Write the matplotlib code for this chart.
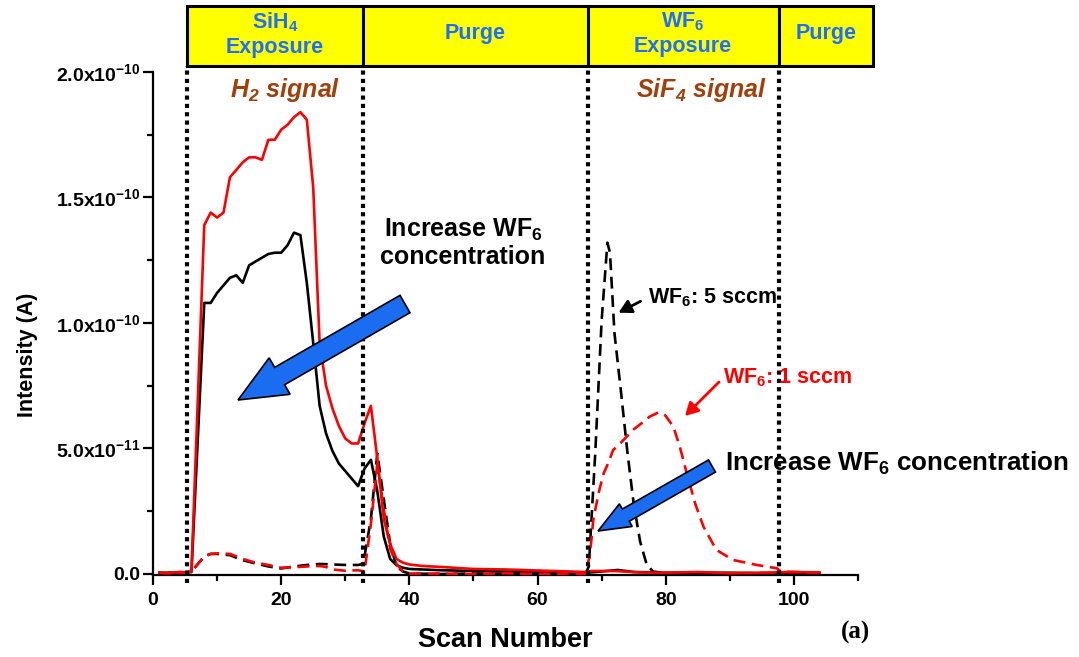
import matplotlib
matplotlib.use('Agg')
import matplotlib.pyplot as plt
import matplotlib.transforms as mtransforms
from matplotlib.patches import Rectangle, FancyArrow, FancyArrowPatch
from matplotlib.ticker import FixedLocator, MultipleLocator

# ---------------- data (intensity in units of 1e-11 A) ----------------
h2_1sccm_x = [1, 2, 3, 4, 5, 6, 8, 9, 10, 11, 12, 13, 14, 15, 16, 17, 18, 19, 20, 21, 22, 23, 24,
              25, 26, 27, 28, 29, 30, 31, 32, 33, 34, 35, 36, 37, 38, 39, 40, 42, 45, 50, 55, 60,
              65, 67.5, 68.5, 72, 76, 80, 85, 90, 95, 100, 104]
h2_1sccm_y = [0.05, 0.03, 0.05, 0.08, 0.07, 0.1, 13.9, 14.4, 14.2, 14.4, 15.8, 16.1, 16.4, 16.6,
              16.6, 16.5, 17.3, 17.3, 17.7, 17.9, 18.2, 18.4, 18.1,
              15.4, 9.2, 7.5, 6.6, 5.9, 5.4, 5.2, 5.2, 6.0, 6.7, 4.6, 2.2, 1.2, 0.6, 0.45, 0.38,
              0.32, 0.28, 0.2, 0.18, 0.14, 0.1, 0.08, 0.12, 0.12, 0.06, 0.05, 0.08, 0.03, 0.05,
              0.08, 0.06]

h2_5sccm_x = [1, 2, 3, 4, 5, 6, 8, 9, 10, 11, 12, 13, 14, 15, 16, 17, 18, 19, 20, 21, 22, 23, 24,
              25, 26, 27, 28, 29, 30, 31, 32, 33, 34, 35, 36, 37, 38, 39, 40, 42, 45, 50, 55, 60,
              65, 67.5, 70, 72.5, 75, 80, 85, 90, 95, 100, 104]
h2_5sccm_y = [0.05, 0.04, 0.05, 0.06, 0.06, 0.08, 10.8, 10.8, 11.2, 11.5, 11.8, 11.9, 11.6, 12.3,
              12.45, 12.6, 12.75, 12.8, 12.8, 13.1, 13.6, 13.5, 11.6,
              9.2, 6.7, 5.6, 4.9, 4.4, 4.1, 3.8, 3.5, 4.2, 4.55, 3.3, 1.5, 0.6, 0.35, 0.25, 0.2,
              0.18, 0.15, 0.12, 0.1, 0.08, 0.06, 0.05, 0.1, 0.16, 0.08, 0.05, 0.04, 0.05, 0.03,
              0.05, 0.04]

sif4_5sccm_x = [1, 3, 5, 6, 8, 9, 10, 12, 14, 16, 18, 20, 22, 24, 26, 28, 30, 32, 32.8, 34, 35,
                36, 37, 38, 39, 40, 45, 50, 55, 60, 65, 67.5, 68, 69, 70, 70.9, 71.3, 72, 73, 74,
                75, 76, 77, 78, 80, 85, 90, 95, 100, 104]
sif4_5sccm_y = [0.03, 0.05, 0.04, 0.1, 0.7, 0.8, 0.8, 0.75, 0.55, 0.42, 0.3, 0.22, 0.3, 0.36,
                0.4, 0.38, 0.36, 0.36, 0.4, 2.2, 4.8, 3.0, 1.2, 0.3, 0.1, 0.02, 0.0, 0.02, 0.0,
                0.02, 0.0, 0.02, 0.3, 4.8, 10.1, 13.2, 12.8, 9.6, 7.3, 4.9, 2.8, 1.3, 0.4, 0.1,
                0.03, 0.05, 0.02, 0.04, 0.02, 0.03]

sif4_1sccm_x = [1, 3, 5, 6, 8, 9, 10, 12, 14, 16, 18, 20, 22, 24, 26, 27, 28, 30, 32, 33, 34,
                35, 36, 37, 38, 39, 40, 45, 50, 55, 60, 65, 67.5, 68.2, 68.7, 69.5, 70.3, 71,
                71.8, 72.9, 73.9, 74.9, 76.2, 77.5, 78.8, 79.9, 81.2, 82.2, 83.3, 84.6, 85.9,
                87.9, 90.5, 94.2, 97.3, 98, 100, 104]
sif4_1sccm_y = [0.05, 0.03, 0.05, 0.1, 0.7, 0.8, 0.82, 0.8, 0.6, 0.45, 0.36, 0.25, 0.27, 0.3,
                0.32, 0.28, 0.18, 0.13, 0.15, 0.1, 2.0, 4.4, 2.6, 1.0, 0.4, 0.1, 0.02, 0.02, 0.0,
                0.03, 0.0, 0.02, 0.0, 0.82, 2.15, 3.2, 4.0, 4.4, 4.94, 5.2, 5.47, 5.74, 6.0, 6.27,
                6.43, 6.33, 5.87, 5.07, 4.0, 2.8, 1.88, 0.96, 0.56, 0.36, 0.23, 0.1, 0.08, 0.05]

phase_edges = [5.3, 32.7, 67.8, 97.6, 112.3]
phase_labels = ["SiH$_4$\nExposure", "Purge", "WF$_6$\nExposure", "Purge"]
boundary_lines = [5.3, 32.7, 67.9, 97.6]

x_ticks = [0, 20, 40, 60, 80, 100]
y_ticks = [0, 5e-11, 1e-10, 1.5e-10, 2e-10]
y_tick_labels = ["0.0", "5.0x10$^{-11}$", "1.0x10$^{-10}$", "1.5x10$^{-10}$", "2.0x10$^{-10}$"]

SCALE = 1e-11

# ---------------- style ----------------
plt.rcParams['font.family'] = ['Liberation Sans', 'DejaVu Sans']
plt.rcParams['font.weight'] = 'bold'
plt.rcParams['mathtext.default'] = 'regular'

W, H = 1079, 657
fig = plt.figure(figsize=(W / 100, H / 100), dpi=100)
ax = fig.add_axes([153 / W, 1 - 575 / H, (858 - 153) / W, (575 - 72) / H])


def fpx(x, y):
    return x / W, 1 - y / H


RED = '#FF0000'
BLUE_TXT = '#1E6EFF'
BROWN = '#A0400C'
ARROW_BLUE = '#1A6CF0'

lw = 1.9
ax.plot(h2_1sccm_x, [v * SCALE for v in h2_1sccm_y], color=RED, lw=lw, zorder=4)
ax.plot(h2_5sccm_x, [v * SCALE for v in h2_5sccm_y], color='black', lw=lw, zorder=3)
ax.plot(sif4_5sccm_x, [v * SCALE for v in sif4_5sccm_y], color='black', lw=lw,
        dashes=(4.5, 2.5), zorder=3)
ax.plot(sif4_1sccm_x, [v * SCALE for v in sif4_1sccm_y], color=RED, lw=lw,
        dashes=(4.5, 2.5), zorder=4)

ax.set_xlim(0, 110)
ax.set_ylim(-0.04 * SCALE, 20.0 * SCALE)

for s in ['top', 'right']:
    ax.spines[s].set_visible(False)
for s in ['left', 'bottom']:
    ax.spines[s].set_linewidth(1.6)

ax.xaxis.set_major_locator(FixedLocator(x_ticks))
ax.xaxis.set_minor_locator(MultipleLocator(10))
ax.yaxis.set_major_locator(FixedLocator(y_ticks))
ax.yaxis.set_minor_locator(MultipleLocator(2.5e-11))
ax.set_yticklabels(y_tick_labels)
ax.tick_params(which='major', direction='out', length=7, width=1.6, labelsize=14)
ax.tick_params(axis='y', which='major', pad=2)
ax.tick_params(axis='x', which='major', pad=5)
ax.tick_params(which='minor', direction='out', length=4, width=1.6)
for lab in ax.get_xticklabels() + ax.get_yticklabels():
    lab.set_fontweight('bold')

ax.set_xlabel('Scan Number', fontsize=19.5, fontweight='bold', labelpad=13)
ax.set_ylabel('Intensity (A)', fontsize=15.5, fontweight='bold', labelpad=10)
ax.yaxis.set_label_coords(-0.163, 0.437)

# phase boundaries (dotted)
for xb in boundary_lines:
    ax.axvline(xb, ymin=-0.016, ymax=1.012, color='black', lw=3.0,
               linestyle=(0, (1, 1)), clip_on=False, zorder=5)

# phase boxes on top
btrans = mtransforms.blended_transform_factory(ax.transData, fig.transFigure)
box_bottom = 1 - 66 / H
box_top = 1 - 6 / H
text_y = 1 - 34 / H
for i, lab in enumerate(phase_labels):
    x0, x1 = phase_edges[i], phase_edges[i + 1]
    r = Rectangle((x0, box_bottom), x1 - x0, box_top - box_bottom, transform=btrans,
                  facecolor='#FFFF00', edgecolor='black', lw=2.2, clip_on=False, zorder=6)
    fig.add_artist(r)
    fig.text((x0 + x1) / 2, text_y, lab, transform=btrans,
             ha='center', va='center', color=BLUE_TXT, fontsize=15.5, fontweight='bold',
             linespacing=1.2, zorder=7)

# signal labels
fig.text(*fpx(285, 90), 'H$_2$ signal', ha='center', va='center', color=BROWN,
         fontsize=18, fontweight='bold', fontstyle='italic')
fig.text(*fpx(702, 90), 'SiF$_4$ signal', ha='center', va='center', color=BROWN,
         fontsize=18, fontweight='bold', fontstyle='italic')

# annotations
fig.text(*fpx(463, 243), 'Increase WF$_6$\nconcentration', ha='center', va='center',
         fontsize=18, fontweight='bold', linespacing=1.1)
fig.text(*fpx(725, 463), 'Increase WF$_6$ concentration', ha='left', va='center',
         fontsize=18.7, fontweight='bold')
fig.text(*fpx(648, 298), 'WF$_6$: 5 sccm', ha='left', va='center', fontsize=15.5,
         fontweight='bold', color='black')
fig.text(*fpx(723, 378), 'WF$_6$: 1 sccm', ha='left', va='center', fontsize=15.5,
         fontweight='bold', color=RED)
fig.text(*fpx(856, 632), '(a)', ha='center', va='center', fontsize=18,
         fontweight='bold', family='Liberation Serif')


def inch(x, y):
    return x / 100, (H - y) / 100


# big blue arrows (pixel geometry -> inches)
def big_arrow(tail, tip, tail_w, head_w, head_l):
    tx, ty = inch(*tail)
    hx, hy = inch(*tip)
    a = FancyArrow(tx, ty, hx - tx, hy - ty, width=tail_w / 100, head_width=head_w / 100,
                   head_length=head_l / 100, length_includes_head=True,
                   facecolor=ARROW_BLUE, edgecolor='black', lw=1.2,
                   transform=fig.dpi_scale_trans, zorder=8)
    fig.add_artist(a)


big_arrow((405, 304), (238, 400), 20, 42, 48)
big_arrow((712, 466), (598, 531), 14, 26, 32)

# small pointer arrows
for tail, tip, col in [((643, 300), (616, 314), 'black'), ((721, 380), (683, 418), RED)]:
    p = FancyArrowPatch(inch(*tail), inch(*tip), transform=fig.dpi_scale_trans,
                        arrowstyle='-|>,head_length=0.55,head_width=0.3', mutation_scale=14,
                        color=col, lw=2.0, zorder=8)
    fig.add_artist(p)

fig.savefig('out.png', dpi=100)
